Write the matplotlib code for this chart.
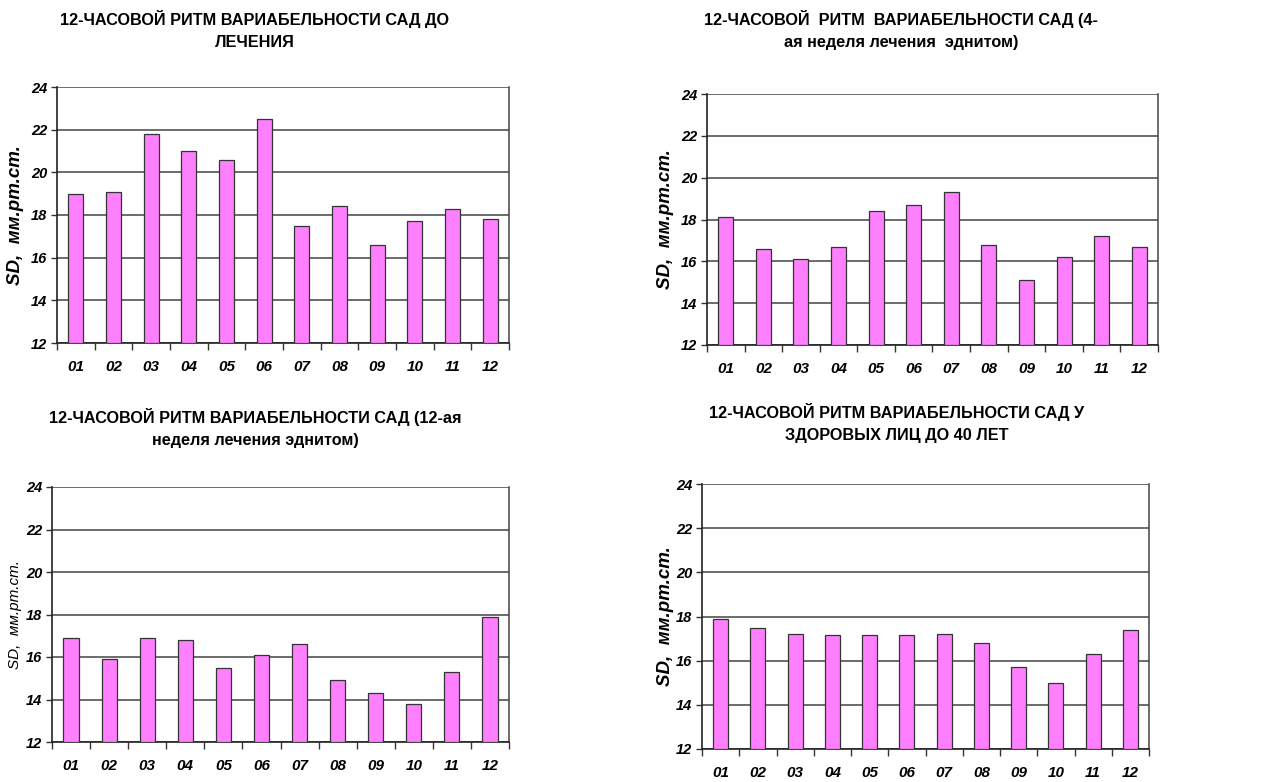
import matplotlib
matplotlib.use("Agg")
import matplotlib.pyplot as plt
import numpy as np

plt.rcParams['font.family'] = ['Liberation Sans', 'DejaVu Sans']

hours = ["01", "02", "03", "04", "05", "06", "07", "08", "09", "10", "11", "12"]

before_treatment = [19.0, 19.1, 21.8, 21.0, 20.6, 22.5, 17.5, 18.4, 16.6, 17.7, 18.3, 17.8]
week4_treatment = [18.1, 16.6, 16.1, 16.7, 18.4, 18.7, 19.3, 16.8, 15.1, 16.2, 17.2, 16.7]
week12_treatment = [16.9, 15.9, 16.9, 16.8, 15.5, 16.1, 16.6, 14.9, 14.3, 13.8, 15.3, 17.9]
healthy_under40 = [17.9, 17.5, 17.2, 17.15, 17.15, 17.15, 17.2, 16.8, 15.7, 15.0, 16.3, 17.4]

titles = [
    "12-ЧАСОВОЙ РИТМ ВАРИАБЕЛЬНОСТИ САД ДО\nЛЕЧЕНИЯ",
    "12-ЧАСОВОЙ  РИТМ  ВАРИАБЕЛЬНОСТИ САД (4-\nая неделя лечения  эднитом)",
    "12-ЧАСОВОЙ РИТМ ВАРИАБЕЛЬНОСТИ САД (12-ая\nнеделя лечения эднитом)",
    "12-ЧАСОВОЙ РИТМ ВАРИАБЕЛЬНОСТИ САД У\nЗДОРОВЫХ ЛИЦ ДО 40 ЛЕТ",
]
ylabel = "SD,  мм.рт.ст."
yticks = [12, 14, 16, 18, 20, 22, 24]

W, H = 1281, 782
fig = plt.figure(figsize=(W / 100, H / 100), dpi=100)

# pixel boxes: left, right, top, bottom ; title center x, title y (first line top)
boxes = [
    (57, 509, 87, 343, 255, 10),
    (707, 1158, 94, 345, 901, 10),
    (52, 509, 487, 742, 255, 408),
    (702, 1149, 484, 749, 897, 403),
]
series = [before_treatment, week4_treatment, week12_treatment, healthy_under40]
ylab_x = [15, 665, 15, 665]

for i, (vals, (l, r, t, b, tx, ty)) in enumerate(zip(series, boxes)):
    ax = fig.add_axes([l / W, 1 - b / H, (r - l) / W, (b - t) / H])
    x = np.arange(len(hours))
    ax.bar(x, np.array(vals) - 12, bottom=12, width=0.4, color="#FF80FF",
           edgecolor="#333333", linewidth=0.9, zorder=3)
    ax.set_xlim(-0.5, 11.5)
    ax.set_ylim(12, 24)
    ax.set_yticks(yticks)
    ax.set_yticklabels([str(v) for v in yticks], fontsize=10.5,
                       fontweight="bold", fontstyle="italic")
    ax.yaxis.grid(True, color="#444444", linewidth=1.1, zorder=0)
    ax.set_xticks(x)
    ax.set_xticklabels(hours, fontsize=11, fontweight="bold", fontstyle="italic")
    ax.tick_params(axis="x", which="major", length=0, pad=12)
    ax.set_xticks(np.arange(-0.5, 12, 1), minor=True)
    ax.tick_params(axis="x", which="minor", length=5, width=1, color="#333333")
    ax.tick_params(axis="y", length=4, width=1, color="#333333", pad=3)
    for s in ["left", "bottom"]:
        ax.spines[s].set_color("#222222")
        ax.spines[s].set_linewidth(1.2)
    ax.spines["right"].set_color("#444444")
    ax.spines["right"].set_linewidth(1.1)
    ax.spines["top"].set_visible(False)
    ax.set_axisbelow(True)

    fig.text(tx / W, 1 - ty / H, titles[i], ha="center", va="top",
             fontsize=11.7, fontweight="bold", linespacing=1.55)
    if i == 2:
        fig.text(ylab_x[i] / W, 1 - ((t + b) / 2) / H, ylabel, rotation=90,
                 ha="center", va="center", fontsize=11, fontstyle="italic")
    else:
        fig.text(ylab_x[i] / W, 1 - ((t + b) / 2) / H, ylabel, rotation=90,
                 ha="center", va="center", fontsize=13.5, fontstyle="italic",
                 fontweight="bold")

fig.savefig("out.png", dpi=100)
